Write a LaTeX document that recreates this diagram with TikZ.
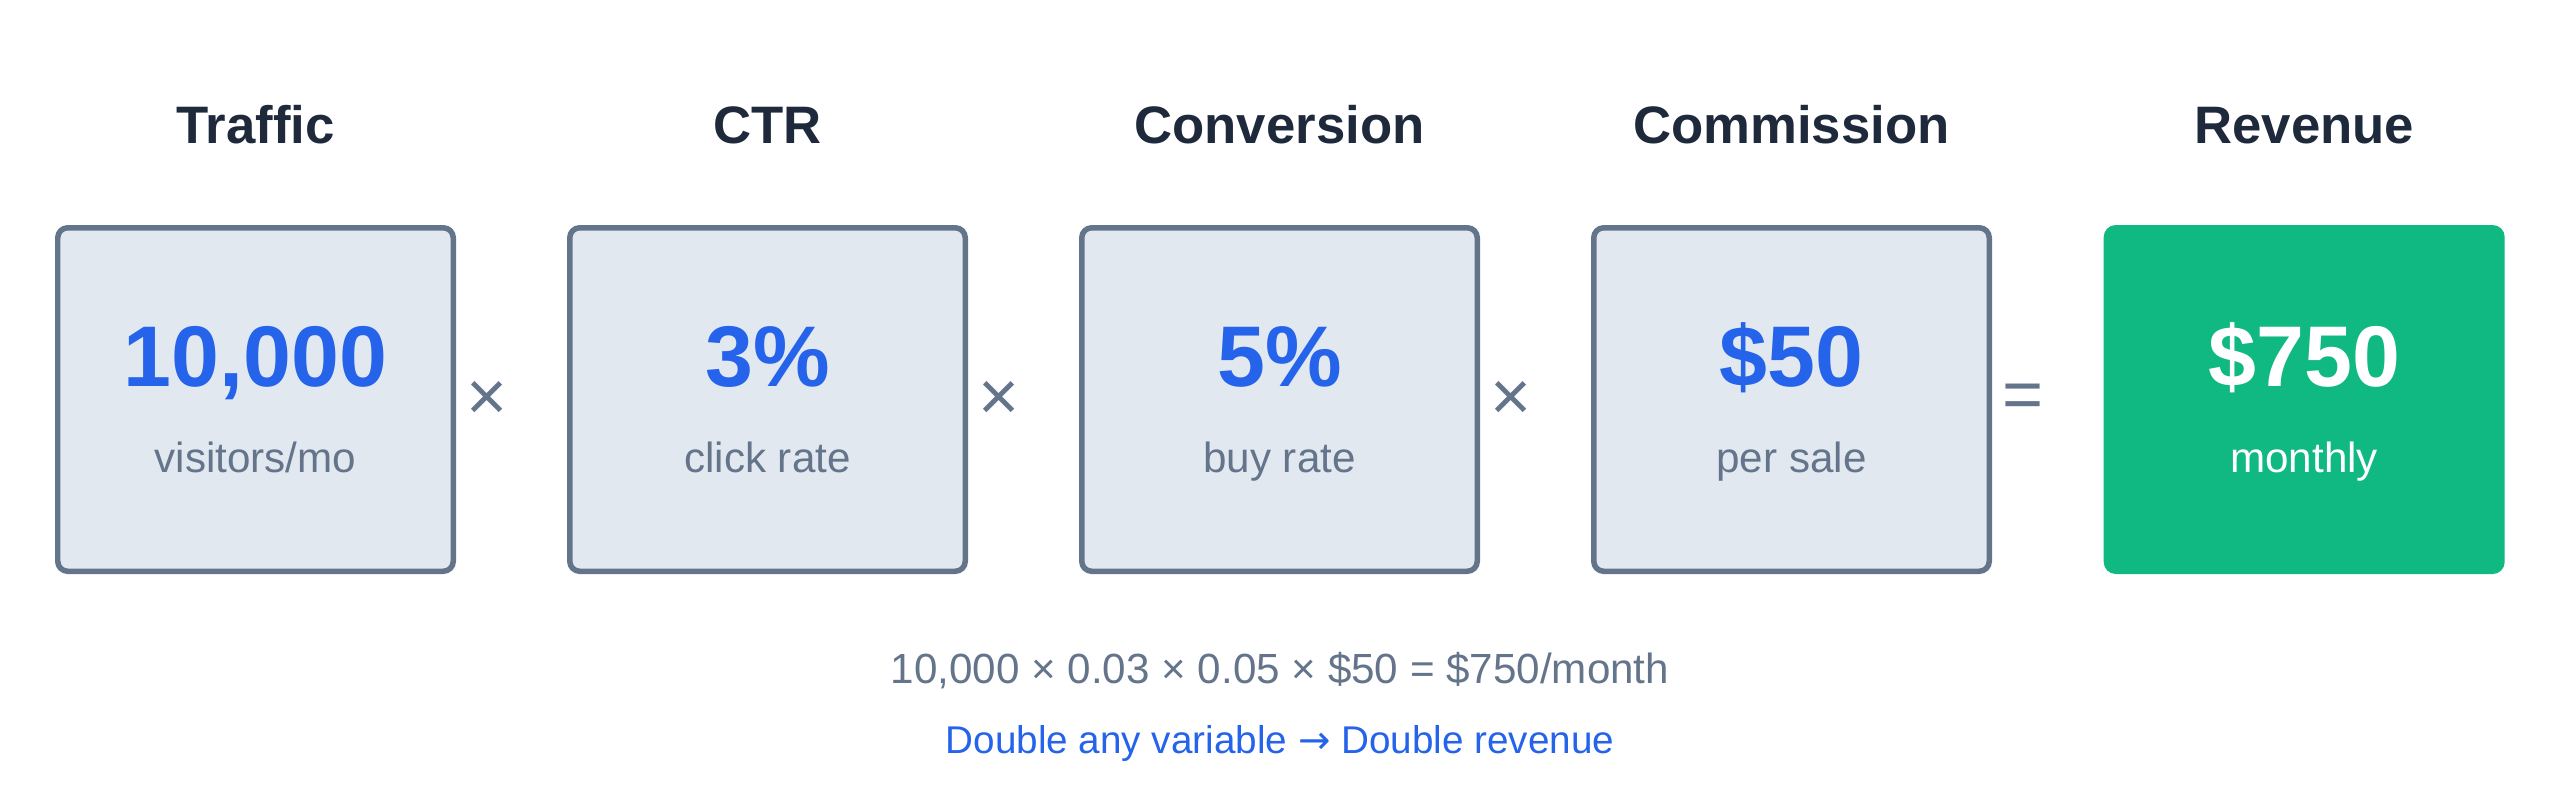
\documentclass[tikz,border=0pt]{standalone}
\usepackage{fontspec}
\setmainfont{Liberation Sans}
\newfontfamily\arrowfont{DejaVu Sans}
\usetikzlibrary{positioning}
\definecolor{ink}{HTML}{1E293B}
\definecolor{slate}{HTML}{64748B}
\definecolor{cardbg}{HTML}{E2E8F0}
\definecolor{accent}{HTML}{2563EB}
\definecolor{mint}{HTML}{10B981}
\begin{document}
\begin{tikzpicture}[
    card/.style={draw=slate, fill=cardbg, line width=0.055cm, rounded corners=0.1cm,
      minimum width=3.955cm, minimum height=3.435cm, inner sep=0pt},
    total/.style={fill=mint, rounded corners=0.12cm,
      minimum width=4.01cm, minimum height=3.49cm, inner sep=0pt},
    head/.style={font=\fontsize{15}{18}\selectfont\bfseries, text=ink, anchor=base},
    big/.style={font=\fontsize{24.5}{28}\selectfont\bfseries, text=accent, anchor=base},
    sub/.style={font=\fontsize{12}{14}\selectfont, text=slate, anchor=base},
    op/.style={font=\fontsize{20}{24}\selectfont, text=slate, inner sep=0pt, anchor=west},
    note/.style={font=\fontsize{12}{14}\selectfont, text=slate, anchor=base}]
    \useasboundingbox (0,0) rectangle (25.6,-7.96);
    % factor cards
    \node[card] (traffic) at (2.555,-3.995) {};
    \node[card, right=1.11cm of traffic] (ctr) {};
    \node[card, right=1.11cm of ctr] (conv) {};
    \node[card, right=1.11cm of conv] (comm) {};
    \node[total, right=1.11cm of comm] (rev) {};
    % headings
    \node[head] (h1) at ([yshift=2.565cm]traffic.center) {Traffic};
    \node[head] (h2) at ([yshift=2.565cm]ctr.center) {CTR};
    \node[head] (h3) at ([yshift=2.565cm]conv.center) {Conversion};
    \node[head] (h4) at ([yshift=2.565cm]comm.center) {Commission};
    \node[head] (h5) at ([yshift=2.565cm]rev.center) {Revenue};
    % values
    \node[big] (v1) at ([yshift=0.135cm]traffic.center) {10,000};
    \node[big] (v2) at ([yshift=0.135cm]ctr.center) {3\%};
    \node[big] (v3) at ([yshift=0.135cm]conv.center) {5\%};
    \node[big] (v4) at ([yshift=0.135cm]comm.center) {\$50};
    \node[big, text=white] (v5) at ([yshift=0.135cm]rev.center) {\$750};
    \node[sub] (s1) at ([yshift=-0.725cm]traffic.center) {visitors/mo};
    \node[sub] (s2) at ([yshift=-0.725cm]ctr.center) {click rate};
    \node[sub] (s3) at ([yshift=-0.725cm]conv.center) {buy rate};
    \node[sub] (s4) at ([yshift=-0.725cm]comm.center) {per sale};
    \node[sub, text=white] (s5) at ([yshift=-0.725cm]rev.center) {monthly};
    % operators
    \node[op] (o1) at ([xshift=0.1cm,yshift=-0.015cm]traffic.east) {×};
    \node[op] (o2) at ([xshift=0.1cm,yshift=-0.015cm]ctr.east) {×};
    \node[op] (o3) at ([xshift=0.1cm,yshift=-0.015cm]conv.east) {×};
    \node[op] (o4) at ([xshift=0.1cm,yshift=-0.015cm]comm.east) {=};
    % summary
    \node[note] (calc) at (12.8,-6.83) {10,000 × 0.03 × 0.05 × \$50 = \$750/month};
    \node[note, text=accent, font=\fontsize{11}{14}\selectfont] (hint) at (12.8,-7.53) {Double any variable {\arrowfont →} Double revenue};
\end{tikzpicture}
\end{document}
